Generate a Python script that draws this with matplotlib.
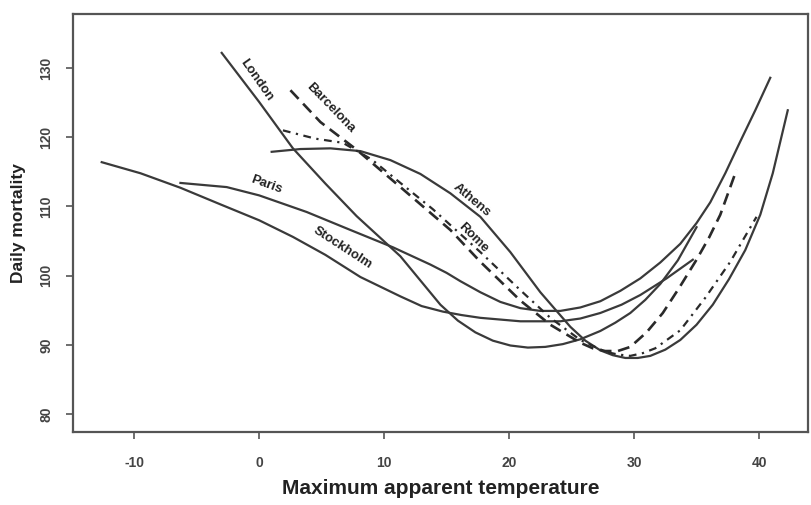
import matplotlib
matplotlib.use("Agg")
import matplotlib.pyplot as plt

plt.rcParams['font.family'] = ['Liberation Sans', 'DejaVu Sans']

# Data (temperature, daily mortality)
london_t = [-3.0, 0.0, 2.7, 5.3, 7.8, 11.3, 12.9, 14.5, 15.9, 17.3, 18.7, 20.1, 21.5, 22.9, 24.3,
            25.7, 27.3, 28.5, 29.7, 30.9, 32.1, 33.5, 35.0]
london_m = [132.2, 125.1, 118.4, 113.3, 108.6, 102.8, 99.3, 95.8, 93.5, 91.8, 90.6, 89.9, 89.6, 89.7, 90.1,
            90.8, 92.0, 93.2, 94.6, 96.5, 98.8, 102.2, 107.0]

stock_t = [-12.6, -9.5, -6.3, -3.1, 0.0, 2.7, 5.3, 8.1, 11.3, 13.0, 14.7, 16.2, 17.7, 20.9, 24.1,
           25.7, 27.3, 29.0, 30.5, 32.6, 34.7]
stock_m = [116.4, 114.8, 112.7, 110.3, 108.0, 105.6, 103.0, 99.8, 97.0, 95.6, 94.8, 94.3, 93.9, 93.4, 93.4,
           93.8, 94.6, 95.8, 97.2, 99.6, 102.3]

paris_t = [-6.3, -2.6, 0.0, 3.8, 7.3, 10.7, 13.7, 15.0, 16.1, 17.7, 19.3, 20.9, 22.5, 24.1, 25.7, 27.3,
           28.9, 30.5, 32.1, 33.7, 35.0, 36.1, 37.3, 38.5, 39.7, 40.9]
paris_m = [113.4, 112.8, 111.6, 109.2, 106.6, 104.1, 101.6, 100.4, 99.2, 97.6, 96.2, 95.3, 94.9, 94.9, 95.4, 96.3,
           97.8, 99.6, 101.9, 104.6, 107.6, 110.6, 114.8, 119.4, 123.9, 128.6]

athens_t = [1.0, 3.3, 5.7, 8.1, 10.5, 12.9, 15.3, 17.7, 20.1, 22.5, 24.9, 26.1, 27.3, 28.3, 29.3, 30.3,
            31.3, 32.5, 33.7, 35.0, 36.3, 37.6, 38.9, 40.1, 41.1, 42.3]
athens_m = [117.9, 118.3, 118.4, 118.0, 116.7, 114.7, 111.9, 108.5, 103.4, 97.6, 92.6, 90.6, 89.2, 88.5, 88.1, 88.1,
            88.4, 89.3, 90.7, 92.9, 95.8, 99.5, 103.7, 108.8, 114.8, 123.9]

barca_t = [2.5, 4.9, 7.8, 11.3, 15.3, 17.7, 19.3, 20.9, 23.3, 25.7, 26.7, 27.7, 28.7, 29.7, 31.0, 32.3,
           33.6, 35.0, 36.0, 36.9, 38.2]
barca_m = [126.8, 122.2, 118.2, 112.8, 106.6, 102.0, 99.2, 96.4, 92.9, 90.3, 89.5, 89.1, 89.1, 89.7, 91.8, 94.6,
           98.2, 102.3, 105.5, 108.8, 115.3]

rome_t = [1.9, 4.5, 6.7, 9.0, 11.3, 13.9, 17.7, 20.9, 23.3, 25.7, 27.7, 28.7, 29.7, 30.7, 31.7, 33.7,
          35.7, 37.7, 39.8]
rome_m = [121.0, 119.8, 119.2, 116.8, 113.4, 109.6, 103.4, 97.9, 93.9, 90.7, 89.0, 88.6, 88.4, 88.8, 89.5, 92.1,
          96.8, 102.0, 108.5]

x_ticks = [-10, 0, 10, 20, 30, 40]
y_ticks = [80, 90, 100, 110, 120, 130]

fig = plt.figure(figsize=(8.11, 5.05), dpi=100)
ax = fig.add_axes([0.090, 0.1446, 0.906, 0.8274])

lc = '#3a3a3a'
lw = 1.6
ax.plot(london_t, london_m, color=lc, lw=lw)
ax.plot(stock_t, stock_m, color=lc, lw=lw)
ax.plot(paris_t, paris_m, color=lc, lw=lw)
ax.plot(athens_t, athens_m, color=lc, lw=lw)
ax.plot(barca_t, barca_m, color='#2a2a2a', lw=lw + 0.3, linestyle=(0, (4.5, 2.5)))
ax.plot(rome_t, rome_m, color='#2a2a2a', lw=lw, linestyle=(0, (3.5, 2.5, 1, 2.5)))

ax.set_xlim(-14.9, 43.9)
ax.set_ylim(77.4, 137.8)
ax.set_xticks(x_ticks)
ax.set_yticks(y_ticks)
ax.set_xticklabels([str(v) for v in x_ticks], fontsize=10, fontweight='bold', color='#444444')
ax.set_yticklabels([str(v) for v in y_ticks], fontsize=10, fontweight='bold', color='#444444',
                   rotation=90, va='center')
ax.tick_params(axis='x', direction='out', length=5, width=1.2, color='#555555', pad=12)
ax.tick_params(axis='y', direction='out', length=5, width=1.2, color='#555555', pad=9)

for s in ax.spines.values():
    s.set_color('#555555')
    s.set_linewidth(1.6)

ax.set_xlabel('Maximum apparent temperature', fontsize=15, fontweight='bold', color='#222222', labelpad=7)
ax.set_ylabel('Daily mortality', fontsize=12.5, fontweight='bold', color='#222222', labelpad=10)

lab = dict(fontsize=9.5, fontweight='bold', color='#222222', ha='center', va='center',
           rotation_mode='anchor')
ax.text(-0.2, 128.3, 'London', rotation=-55, **lab)
ax.text(5.7, 124.3, 'Barcelona', rotation=-46, **lab)
ax.text(17.0, 110.9, 'Athens', rotation=-40, **lab)
ax.text(17.1, 105.4, 'Rome', rotation=-45, **lab)
ax.text(0.6, 113.2, 'Paris', rotation=-20, **lab)
ax.text(6.7, 104.0, 'Stockholm', rotation=-33, **lab)

fig.savefig('out.png', dpi=100)
